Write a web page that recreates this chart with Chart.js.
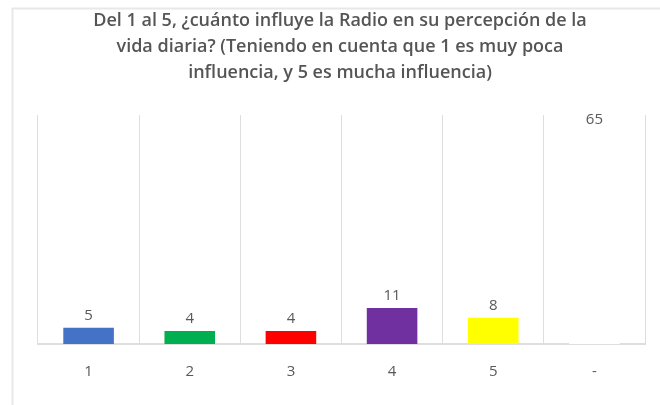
<!DOCTYPE html>
<html>
<head>
<meta charset="utf-8">
<script src="https://cdn.jsdelivr.net/npm/chart.js@4/dist/chart.umd.min.js"></script>
<style>
html,body{margin:0;padding:0;background:#fff;}
#wrap{width:660px;height:405px;position:relative;}
</style>
</head>
<body>
<div id="wrap"><canvas id="c" width="660" height="405"></canvas></div>
<script>
const titleLines = [
  "Del 1 al 5, ¿cuánto influye la Radio en su percepción de la",
  "vida diaria? (Teniendo en cuenta que 1 es muy poca",
  "influencia, y 5 es mucha influencia)"
];
const categories = ["1", "2", "3", "4", "5", "-"];
const values = [5, 4, 4, 11, 8, 65];
const barColors = ["#4472C4", "#00B050", "#FF0000", "#7030A0", "#FFFF00", "#FFFFFF"];
const yMax = 70;

const textColor = "#595959";
const fontFam = "'Open Sans', 'Liberation Sans', sans-serif";

const framePlugin = {
  id: "frame",
  beforeDraw(chart) {
    const ctx = chart.ctx;
    ctx.save();
    ctx.fillStyle = "#ffffff";
    ctx.fillRect(0, 0, chart.width, chart.height);
    ctx.strokeStyle = "#e8e8e8";
    ctx.lineWidth = 2;
    ctx.beginPath();
    ctx.moveTo(12.5, chart.height);
    ctx.lineTo(12.5, 8.5);
    ctx.lineTo(chart.width, 8.5);
    ctx.stroke();
    ctx.restore();
  },
  afterDraw(chart) {
    const ctx = chart.ctx;
    ctx.save();
    ctx.fillStyle = "#555555";
    ctx.font = "600 18px " + fontFam;
    ctx.textAlign = "center";
    ctx.textBaseline = "middle";
    const ys = [21, 47, 73];
    titleLines.forEach((t, i) => ctx.fillText(t, 340, ys[i]));
    // data labels
    const meta = chart.getDatasetMeta(0);
    ctx.fillStyle = textColor;
    ctx.font = "15px " + fontFam;
    ctx.textBaseline = "middle";
    meta.data.forEach((bar, i) => {
      ctx.fillText(String(values[i]), bar.x, bar.y - 12);
    });
    ctx.restore();
  }
};

new Chart(document.getElementById("c"), {
  type: "bar",
  data: {
    labels: categories,
    datasets: [{
      data: values,
      backgroundColor: barColors,
      borderWidth: 0,
      categoryPercentage: 1,
      barPercentage: 0.5
    }]
  },
  options: {
    responsive: false,
    animation: false,
    devicePixelRatio: 1,
    layout: { padding: { left: 38, right: 15, top: 115, bottom: 0 } },
    plugins: { legend: { display: false }, title: { display: false }, tooltip: { enabled: false } },
    scales: {
      x: {
        offset: true,
        grid: {
          offset: true,
          drawTicks: false,
          color: (c) => (c.index >= categories.length ? "rgba(0,0,0,0)" : "#dedede"),
          lineWidth: 1
        },
        border: { display: true, color: "#dedede", width: 2 },
        ticks: { color: textColor, font: { family: fontFam, size: 15 }, padding: 19 },
        afterFit: (s) => { s.height = 61; }
      },
      y: {
        display: false,
        min: 0,
        max: yMax
      }
    }
  },
  plugins: [framePlugin]
});
</script>
</body>
</html>
